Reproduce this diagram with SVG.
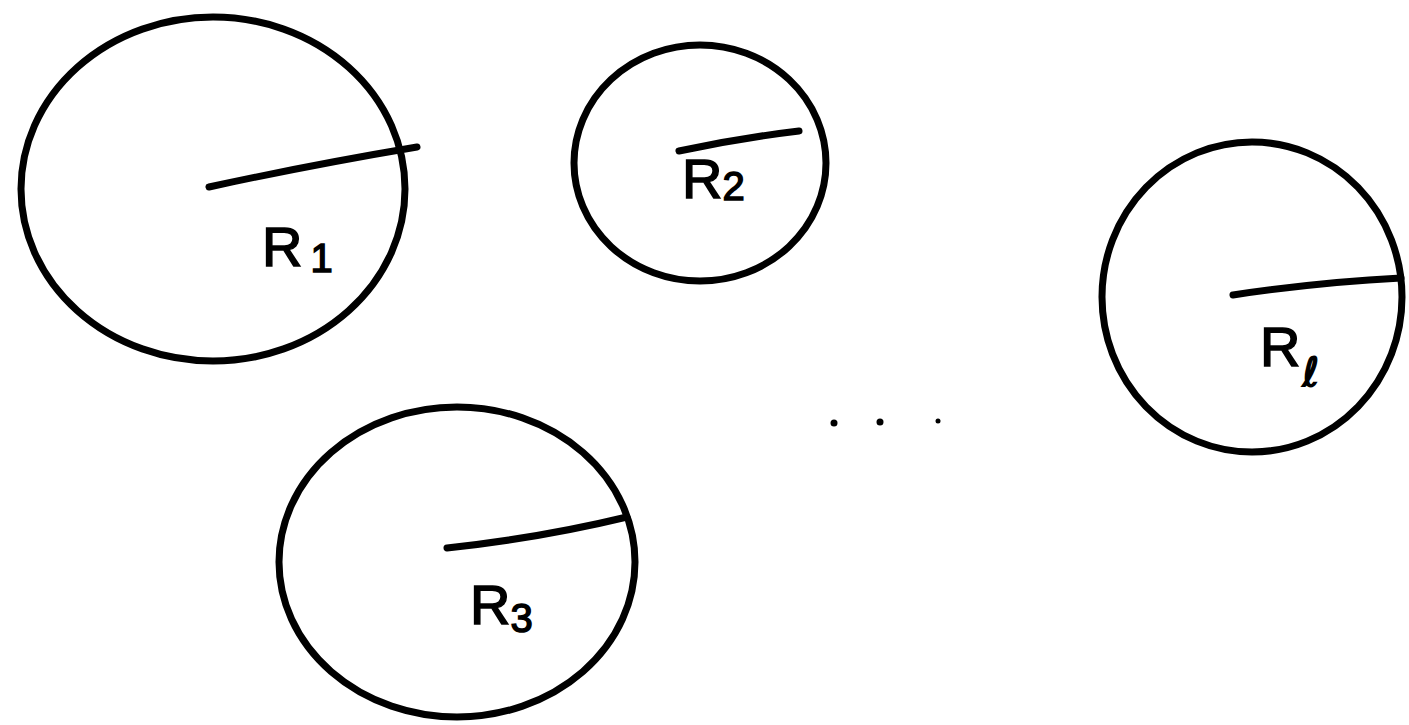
<svg xmlns="http://www.w3.org/2000/svg" width="1409" height="725" viewBox="0 0 1409 725">
<style>
.c{fill:none;stroke:#000;stroke-width:7;stroke-linecap:round}
.r{fill:none;stroke:#000;stroke-width:7;stroke-linecap:round}
.t{font-family:"Liberation Sans",Arial,sans-serif;font-size:56px;fill:#000;stroke:#000;stroke-width:1.5}
.s{font-size:40px}
.l{font-family:"DejaVu Sans",sans-serif}
</style>
<rect width="1409" height="725" fill="#fff"/>
<g id="circle1">
<ellipse class="c" cx="213" cy="189" rx="192" ry="172"/>
<path class="r" d="M209 187 Q310 165 417 147"/>
<text class="t" x="262" y="266">R<tspan class="s" dx="8" dy="6">1</tspan></text>
</g>
<g id="circle2">
<ellipse class="c" cx="700" cy="163" rx="126" ry="118"/>
<path class="r" d="M679 151 Q740 138 799 131"/>
<text class="t" x="682" y="198">R<tspan class="s" dy="2">2</tspan></text>
</g>
<g id="circle3">
<ellipse class="c" cx="457" cy="562" rx="178" ry="155"/>
<path class="r" d="M447 548 Q540 538 627 517"/>
<text class="t" x="470" y="624">R<tspan class="s" dy="8">3</tspan></text>
</g>
<g id="circlel">
<ellipse class="c" cx="1252" cy="297" rx="150" ry="155"/>
<path class="r" d="M1233 295 Q1320 282 1401 278"/>
<text class="t" x="1260" y="366">R<tspan class="s l" dx="2" dy="20">ℓ</tspan></text>
</g>
<g id="dots" fill="#000">
<circle cx="834" cy="423" r="3.5"/>
<circle cx="880" cy="422" r="3.5"/>
<circle cx="938" cy="421" r="2.5"/>
</g>
</svg>
